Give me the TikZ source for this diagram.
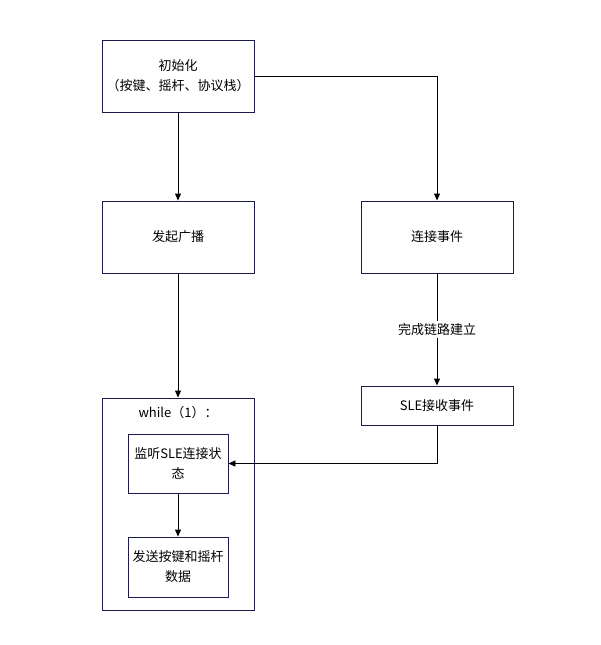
\documentclass[tikz,border=0pt]{standalone}
\usepackage{fontspec}
\setmainfont{Noto Sans CJK SC}
\usetikzlibrary{arrows.meta}
\definecolor{boxblue}{HTML}{1B1B4D}

\begin{document}
\begin{tikzpicture}[x=1pt,y=-1pt,line width=0.9pt,
  main node/.style={rectangle,draw=boxblue,font=\fontsize{13}{20}\selectfont,align=center,inner sep=0pt},
  flow/.style={-{Triangle[length=7pt,width=6pt]},black}]
  \useasboundingbox (0,0) rectangle (601,645);

  \node[main node,minimum width=152pt,minimum height=72pt] (1) at (178,76) {初始化\\（按键、摇杆、协议栈）};
  \node[main node,minimum width=152pt,minimum height=72pt] (2) at (178,237) {发起广播};
  \node[main node,minimum width=152pt,minimum height=72pt] (3) at (437,237) {连接事件};
  \node[main node,minimum width=152pt,minimum height=39pt] (4) at (437,405.5) {SLE接收事件};
  \node[main node,minimum width=152pt,minimum height=212pt] (loop) at (178,504) {};
  \node[font=\fontsize{13}{20}\selectfont,inner sep=0pt] (w) at (178,413) {while（1）：};
  \node[main node,minimum width=100pt,minimum height=59pt] (5) at (178,463.5) {监听SLE连接状\\态};
  \node[main node,minimum width=100pt,minimum height=60pt] (6) at (178,567) {发送按键和摇杆\\数据};

  \draw[flow] (1) -- (2);
  \draw[flow] (1.east) -| (3.north);
  \draw[flow] (3) -- node[fill=white,font=\fontsize{13}{20}\selectfont,inner sep=2pt]{完成链路建立} (4);
  \draw[flow] (2) -- (loop);
  \draw[flow] (4.south) |- (5.east);
  \draw[flow] (5) -- (6);
\end{tikzpicture}
\end{document}
